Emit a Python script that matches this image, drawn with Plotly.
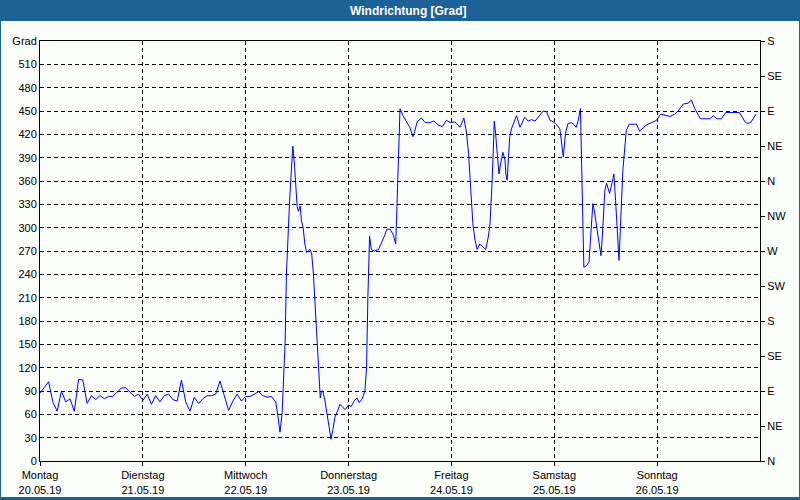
import pandas as pd
import plotly.graph_objects as go

# ---- data ----
hours = [0, 1, 2, 3, 4, 5, 6, 7, 8, 9, 10, 11, 12, 13, 14, 15, 16, 17, 18, 19, 20, 21, 22, 23,
         24, 25, 26, 27, 28, 29, 30, 31, 32, 33, 34, 35, 36, 37, 38, 39, 40, 41, 42, 43, 44, 45, 46, 47,
         48, 49, 50, 51, 52, 53, 54, 55, 55.5, 56, 56.5, 56.8, 57.2, 57.5, 57.8, 58.2, 58.6, 59.0, 59.4,
         59.7, 60.0, 60.3, 60.7, 61.0, 61.4, 61.8, 62.2, 63.0, 63.4, 63.8, 64.3, 64.7, 65.2, 65.4, 65.7,
         66.0, 66.5, 67.0, 67.5, 67.9, 68.3, 68.8, 69.4, 70.0, 70.5, 71.2, 72.0, 72.6, 73.3, 73.9, 74.5,
         75.2, 75.8, 76.2, 76.5, 76.9, 77.3, 78.0, 79.0, 79.6, 80.5, 80.9, 81.7, 82.4, 83.0, 83.3, 83.6,
         84.0, 84.7, 85.5, 86.3, 87.0, 87.4, 88.0, 89.0, 89.9, 90.9, 91.9, 92.9, 93.9, 94.8, 95.8, 96.8,
         98.0, 98.9, 99.5, 100.0, 100.5, 101.0, 101.5, 102.0, 102.6, 103.3, 104.0, 104.6, 105.0, 105.5,
         106.0, 106.3, 106.6, 106.9, 107.1, 107.4, 108.0, 108.5, 108.7, 109.0, 109.3, 109.6, 110.0,
         111.2, 112.0, 113.1, 113.9, 114.7, 115.5, 116.7, 117.4, 118.2, 119.0, 119.8, 120.6, 121.3,
         121.7, 122.1, 122.6, 123.2, 124.0, 124.7, 125.1, 125.5, 126.1, 126.9, 127.5, 128.1, 129.0,
         129.4, 130.0, 130.9, 131.2, 131.8, 132.2, 132.9, 133.7, 133.9, 134.3, 135.1, 136.0, 136.8,
         137.5, 139.2, 139.9, 141.5, 143.5, 144.0, 144.8, 145.8, 147.0, 148.1, 148.9, 150.1, 151.2,
         152.0, 152.8, 154.1, 156.3, 157.1, 157.9, 159.0, 160.0, 163.2, 164.5, 165.0, 165.8, 167.1]
direction = [87, 95, 102, 76, 64, 90, 76, 80, 64, 105, 104, 74, 84, 79, 84, 80, 83, 83, 89, 94, 94, 89, 83, 86,
             78, 86, 73, 84, 76, 84, 86, 79, 77, 104, 76, 64, 82, 74, 80, 84, 84, 86, 103, 84, 65, 77, 86, 77,
             83, 83, 86, 89, 84, 82, 83, 76, 58, 37, 62, 94, 154, 240, 283, 330, 369, 405, 379,
             345, 327, 321, 328, 309, 300, 279, 268, 272, 266, 240, 189, 137, 90, 81, 90,
             90, 77, 60, 43, 28, 39, 56, 64, 73, 70, 66, 72, 70, 77, 81, 75,
             80, 90, 120, 210, 289, 272, 270, 272, 279, 291, 298, 298, 291, 279, 330, 400,
             453, 444, 436, 429, 417, 423, 436, 441, 435, 435, 437, 432, 430, 438, 435, 436,
             429, 441, 423, 395, 350, 305, 284, 272, 279, 275, 272, 288, 305, 360,
             437, 421, 400, 387, 369, 380, 397, 387, 369, 361, 385, 417, 427,
             444, 429, 442, 437, 439, 437, 446, 450, 449, 438, 436, 432, 427,
             410, 391, 421, 434, 435, 432, 429, 436, 453, 249, 251, 256, 331,
             320, 297, 264, 288, 348, 357, 344, 363, 369, 335, 258, 374, 425,
             433, 433, 424, 432, 437, 439, 446, 445, 443, 446, 450, 459, 460,
             464, 453, 440, 440, 444, 440, 440, 448, 448, 436, 434, 435, 446]

start_date = "2019-05-20"
day_names = ["Montag", "Dienstag", "Mittwoch", "Donnerstag", "Freitag", "Samstag", "Sonntag"]
day_dates = ["20.05.19", "21.05.19", "22.05.19", "23.05.19", "24.05.19", "25.05.19", "26.05.19"]
deg_ticks = list(range(0, 541, 30))
deg_labels = [str(v) for v in range(0, 511, 30)] + ["Grad"]
compass_ticks = list(range(0, 541, 45))
compass_labels = ["N", "NE", "E", "SE", "S", "SW", "W", "NW", "N", "NE", "E", "SE", "S"]
title_text = "Windrichtung [Grad]"

# ---- build ----
base = pd.Timestamp(start_date)
times = base + pd.to_timedelta(hours, unit="h")
day_ticks = [base + pd.Timedelta(days=i) for i in range(len(day_names))]

W, H = 800, 500
L, R, T, B = 40, 40, 41, 39
pw, ph = W - L - R, H - T - B


def px(x):
    return (x - L) / pw


def py(y):
    return (H - B - y) / ph


font = dict(family="Liberation Sans, Arial, sans-serif", size=11, color="black")
dash = "4px,3px"
blue = "#1D6296"

fig = go.Figure()
fig.add_trace(go.Scatter(x=times, y=direction, mode="lines",
                         line=dict(color="#0000FF", width=1), hoverinfo="skip",
                         showlegend=False))
fig.add_trace(go.Scatter(x=[times[0]], y=[None], yaxis="y2", mode="lines",
                         showlegend=False, hoverinfo="skip"))

fig.update_layout(
    width=W, height=H,
    margin=dict(l=L, r=R, t=T, b=B, autoexpand=False),
    paper_bgcolor="#FBFDFB", plot_bgcolor="#FBFDFB",
    font=font, showlegend=False,
    xaxis=dict(type="date", range=[base, base + pd.Timedelta(days=7)],
               tickvals=day_ticks,
               ticktext=[f"{n}<br>{d}" for n, d in zip(day_names, day_dates)],
               ticks="outside", ticklen=4, tickcolor="black", tickwidth=1,
               showline=True, linecolor="black", linewidth=1, mirror=True,
               showgrid=True, gridcolor="black", gridwidth=1, griddash=dash,
               zeroline=False, tickfont=font),
    yaxis=dict(range=[0, 540], tickvals=deg_ticks, ticktext=deg_labels,
               ticks="", showline=True, linecolor="black", linewidth=1, mirror=True,
               showgrid=True, gridcolor="black", gridwidth=1, griddash=dash,
               zeroline=False, tickfont=font),
    yaxis2=dict(range=[0, 540], overlaying="y", side="right",
                tickvals=compass_ticks, ticktext=compass_labels,
                ticks="outside", ticklen=4, tickcolor="black",
                showline=False, showgrid=False, zeroline=False, tickfont=font),
    shapes=[
        dict(type="rect", xref="paper", yref="paper", x0=px(0), x1=px(800),
             y0=py(21), y1=py(0), fillcolor=blue, line=dict(width=0), layer="above"),
        dict(type="rect", xref="paper", yref="paper", x0=px(0), x1=px(1),
             y0=py(500), y1=py(0), fillcolor=blue, line=dict(width=0), layer="above"),
        dict(type="rect", xref="paper", yref="paper", x0=px(799), x1=px(800),
             y0=py(500), y1=py(0), fillcolor=blue, line=dict(width=0), layer="above"),
        dict(type="rect", xref="paper", yref="paper", x0=px(0), x1=px(800),
             y0=py(500), y1=py(497), fillcolor=blue, line=dict(width=0), layer="above"),
    ],
    annotations=[
        dict(text=f"<b>{title_text}</b>", xref="paper", yref="paper",
             x=px(409), y=py(10.5), xanchor="center", yanchor="middle",
             showarrow=False, font=dict(family="Liberation Sans, Arial, sans-serif",
                                        size=12, color="white")),
    ],
)

fig.write_html("out.html", config={"displayModeBar": False, "staticPlot": True},
               post_script="document.body.style.margin='0px';document.body.style.padding='0px';")
